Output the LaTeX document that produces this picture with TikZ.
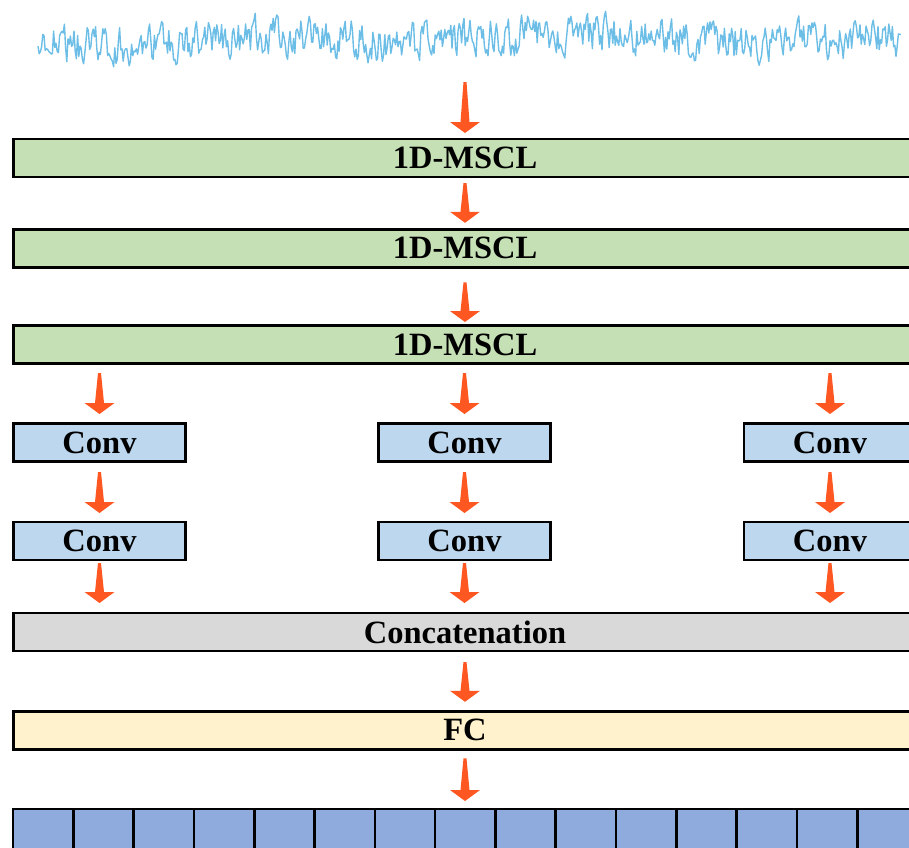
\documentclass[tikz,border=0pt]{standalone}
\usepackage{fontspec}
\setmainfont{Liberation Serif}
\usetikzlibrary{calc}

\definecolor{mscl}{HTML}{C5E0B4}
\definecolor{convfill}{HTML}{BDD7EE}
\definecolor{catfill}{HTML}{D9D9D9}
\definecolor{fcfill}{HTML}{FFF2CC}
\definecolor{outfill}{HTML}{8FAADC}
\definecolor{flowcol}{RGB}{255,87,34}
\definecolor{sigcol}{RGB}{108,190,230}

\tikzset{
  blk/.style={draw=black, line width=2.6pt, inner sep=0pt, outer sep=0pt,
    font=\bfseries\fontsize{32.5}{36}\selectfont, text=black},
  wide/.style={blk, minimum width=903pt, minimum height=38pt},
  convbox/.style={blk, fill=convfill, minimum width=172pt, minimum height=38pt},
  cell/.style={draw=black, line width=2.6pt, fill=outfill, inner sep=0pt,
    outer sep=0pt, minimum width=60.3pt, minimum height=42pt},
  flow/.style={fill=flowcol, draw=none}
}

% tapered block arrow: #1 source point, #2 target point,
% #3 gap below the source, #4 gap above the target
\newcommand\flowarrow[4]{%
  \fill[flow] let \p1=(#1), \p2=(#2) in
    (\x1-1.5pt,\y1-#3pt) -- (\x1+1.5pt,\y1-#3pt)
    -- (\x1+4.5pt,\y2+#4pt+11pt) -- (\x1+15pt,\y2+#4pt+11pt)
    -- (\x1,\y2+#4pt)
    -- (\x1-15pt,\y2+#4pt+11pt) -- (\x1-4.5pt,\y2+#4pt+11pt) -- cycle;}

\begin{document}
\begin{tikzpicture}[x=1pt, y=-1pt]
\useasboundingbox (0,0) rectangle (909,847);
\clip (0,0) rectangle (909,847);

% noisy input signal (mean-reverting random walk)
\pgfmathsetseed{4242}
\gdef\sigv{0}
\gdef\sigpts{}
\foreach \k in {0,...,719} {
  \pgfmathsetmacro\nv{0.4*\sigv + 17*rand}
  \pgfmathsetmacro\px{38+1.2*\k}
  \pgfmathsetmacro\py{39 + \nv + 4*sin(\k*1.4) + 3*sin(\k*0.55+40)}
  \xdef\sigv{\nv}
  \xdef\sigpts{\sigpts (\px,\py)}
}
\edef\drawsig{\noexpand\draw[sigcol, line width=1.4pt, line join=round]
  plot coordinates {\sigpts};}
\drawsig
\coordinate (sig) at (465,82);

% multi-scale convolution stages
\node[wide, fill=mscl] (m1) at (465,158) {1D-MSCL};
\node[wide, fill=mscl] (m2) at (465,248.3) {1D-MSCL};
\node[wide, fill=mscl] (m3) at (465,344.5) {1D-MSCL};

% three parallel conv branches
\node[convbox] (c11) at (99.5,442.5) {Conv};
\node[convbox] (c12) at (464.5,442.5) {Conv};
\node[convbox] (c13) at (830,442.5) {Conv};
\node[convbox] (c21) at (99.5,541) {Conv};
\node[convbox] (c22) at (464.5,541) {Conv};
\node[convbox] (c23) at (830,541) {Conv};

\node[wide, fill=catfill] (cat) at (465,632) {Concatenation};
\node[wide, fill=fcfill] (fc) at (465,730.3) {FC};

% output vector
\foreach \i in {1,...,15} {
  \node[cell] (cell\i) at ({13+60.3*(\i-0.5)},830) {};
}

% arrows
\flowarrow{sig}{m1.north}{0}{6}
\flowarrow{m1.south}{m2.north}{6}{6.5}
\flowarrow{m2.south}{m3.north}{15}{3.5}
\flowarrow{m3.south -| c11.north}{c11.north}{9.5}{9.5}
\flowarrow{m3.south -| c12.north}{c12.north}{9.5}{9.5}
\flowarrow{m3.south -| c13.north}{c13.north}{9.5}{9.5}
\flowarrow{c11.south}{c21.north}{10.5}{9}
\flowarrow{c12.south}{c22.north}{10.5}{9}
\flowarrow{c13.south}{c23.north}{10.5}{9}
\flowarrow{c21.south}{cat.north -| c21.south}{3}{10}
\flowarrow{c22.south}{cat.north -| c22.south}{3}{10}
\flowarrow{c23.south}{cat.north -| c23.south}{3}{10}
\flowarrow{cat.south}{fc.north}{11}{9.5}
\flowarrow{fc.south}{cell8.north}{9}{8}
\end{tikzpicture}
\end{document}
